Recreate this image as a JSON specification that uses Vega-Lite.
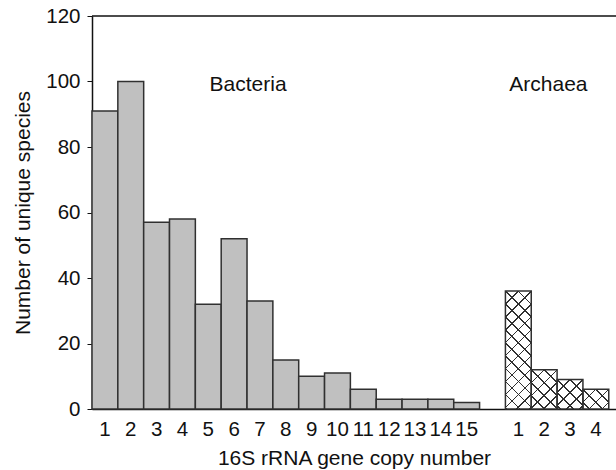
{
  "$schema": "https://vega.github.io/schema/vega-lite/v6.json",
  "width": 524,
  "height": 393,
  "autosize": {"type": "none"},
  "padding": {"left": 92, "top": 16, "right": 0, "bottom": 61},
  "background": "white",
  "config": {
    "font": "Liberation Sans",
    "view": {"stroke": null},
    "axis": {"grid": false, "domainColor": "#111", "domainWidth": 1.5, "tickColor": "#111", "labelColor": "#111", "titleColor": "#111", "labelFontSize": 20.5, "titleFontSize": 21, "titleFontWeight": "normal"}
  },
  "data": {
    "values": [
      {"cat": "B1", "group": "Bacteria", "count": 91},
      {"cat": "B2", "group": "Bacteria", "count": 100},
      {"cat": "B3", "group": "Bacteria", "count": 57},
      {"cat": "B4", "group": "Bacteria", "count": 58},
      {"cat": "B5", "group": "Bacteria", "count": 32},
      {"cat": "B6", "group": "Bacteria", "count": 52},
      {"cat": "B7", "group": "Bacteria", "count": 33},
      {"cat": "B8", "group": "Bacteria", "count": 15},
      {"cat": "B9", "group": "Bacteria", "count": 10},
      {"cat": "B10", "group": "Bacteria", "count": 11},
      {"cat": "B11", "group": "Bacteria", "count": 6},
      {"cat": "B12", "group": "Bacteria", "count": 3},
      {"cat": "B13", "group": "Bacteria", "count": 3},
      {"cat": "B14", "group": "Bacteria", "count": 3},
      {"cat": "B15", "group": "Bacteria", "count": 2},
      {"cat": "A1", "group": "Archaea", "count": 36},
      {"cat": "A2", "group": "Archaea", "count": 12},
      {"cat": "A3", "group": "Archaea", "count": 9},
      {"cat": "A4", "group": "Archaea", "count": 6}
    ]
  },
  "layer": [
    {
      "encoding": {
        "x": {
          "field": "cat", "type": "nominal", "sort": null,
          "scale": {"domain": ["B1","B2","B3","B4","B5","B6","B7","B8","B9","B10","B11","B12","B13","B14","B15","_","A1","A2","A3","A4"], "paddingInner": 0, "paddingOuter": 0.14, "align": 0},
          "axis": {"title": "16S rRNA gene copy number", "labelAngle": 0, "ticks": false, "labelPadding": 10, "titlePadding": 8, "labelExpr": "slice(datum.value, 1)"}
        },
        "y": {
          "field": "count", "type": "quantitative",
          "scale": {"domain": [0, 120], "nice": false},
          "axis": {"title": "Number of unique species", "values": [0,20,40,60,80,100,120], "tickSize": 5, "labelPadding": 7, "titlePadding": 12}
        }
      },
      "layer": [
        {"transform": [{"filter": "datum.group === 'Bacteria'"}], "mark": {"type": "bar", "fill": "#c0c0c0", "stroke": "#303030", "strokeWidth": 1.5}},
        {"transform": [{"filter": "datum.group === 'Archaea'"}], "mark": {"type": "bar", "fill": "white"}},
        {"transform": [{"filter": "datum.cat === 'A1'"}], "mark": {"type": "bar", "fill": {"gradient": "linear", "x1": 0, "y1": 0, "x2": 0.25494, "y2": 1.16328, "stops": [
          {"offset": 0, "color": "#303030"}, {"offset": 0.0052, "color": "#303030"}, {"offset": 0.0052, "color": "rgba(255,255,255,0)"},
          {"offset": 0.0847, "color": "rgba(255,255,255,0)"}, {"offset": 0.0847, "color": "#303030"}, {"offset": 0.0951, "color": "#303030"}, {"offset": 0.0951, "color": "rgba(255,255,255,0)"},
          {"offset": 0.1746, "color": "rgba(255,255,255,0)"}, {"offset": 0.1746, "color": "#303030"}, {"offset": 0.1850, "color": "#303030"}, {"offset": 0.1850, "color": "rgba(255,255,255,0)"},
          {"offset": 0.2644, "color": "rgba(255,255,255,0)"}, {"offset": 0.2644, "color": "#303030"}, {"offset": 0.2748, "color": "#303030"}, {"offset": 0.2748, "color": "rgba(255,255,255,0)"},
          {"offset": 0.3543, "color": "rgba(255,255,255,0)"}, {"offset": 0.3543, "color": "#303030"}, {"offset": 0.3647, "color": "#303030"}, {"offset": 0.3647, "color": "rgba(255,255,255,0)"},
          {"offset": 0.4442, "color": "rgba(255,255,255,0)"}, {"offset": 0.4442, "color": "#303030"}, {"offset": 0.4546, "color": "#303030"}, {"offset": 0.4546, "color": "rgba(255,255,255,0)"},
          {"offset": 0.5341, "color": "rgba(255,255,255,0)"}, {"offset": 0.5341, "color": "#303030"}, {"offset": 0.5445, "color": "#303030"}, {"offset": 0.5445, "color": "rgba(255,255,255,0)"},
          {"offset": 0.6240, "color": "rgba(255,255,255,0)"}, {"offset": 0.6240, "color": "#303030"}, {"offset": 0.6344, "color": "#303030"}, {"offset": 0.6344, "color": "rgba(255,255,255,0)"},
          {"offset": 0.7138, "color": "rgba(255,255,255,0)"}, {"offset": 0.7138, "color": "#303030"}, {"offset": 0.7242, "color": "#303030"}, {"offset": 0.7242, "color": "rgba(255,255,255,0)"},
          {"offset": 0.8037, "color": "rgba(255,255,255,0)"}, {"offset": 0.8037, "color": "#303030"}, {"offset": 0.8141, "color": "#303030"}, {"offset": 0.8141, "color": "rgba(255,255,255,0)"},
          {"offset": 0.8936, "color": "rgba(255,255,255,0)"}, {"offset": 0.8936, "color": "#303030"}, {"offset": 0.9040, "color": "#303030"}, {"offset": 0.9040, "color": "rgba(255,255,255,0)"},
          {"offset": 0.9835, "color": "rgba(255,255,255,0)"}, {"offset": 0.9835, "color": "#303030"}, {"offset": 0.9939, "color": "#303030"}, {"offset": 0.9939, "color": "rgba(255,255,255,0)"},
          {"offset": 1, "color": "rgba(255,255,255,0)"}]}}},
        {"transform": [{"filter": "datum.cat === 'A1'"}], "mark": {"type": "bar", "fill": {"gradient": "linear", "x1": 1, "y1": 0, "x2": 0.74506, "y2": 1.16328, "stops": [
          {"offset": 0, "color": "#303030"}, {"offset": 0.0052, "color": "#303030"}, {"offset": 0.0052, "color": "rgba(255,255,255,0)"},
          {"offset": 0.0847, "color": "rgba(255,255,255,0)"}, {"offset": 0.0847, "color": "#303030"}, {"offset": 0.0951, "color": "#303030"}, {"offset": 0.0951, "color": "rgba(255,255,255,0)"},
          {"offset": 0.1746, "color": "rgba(255,255,255,0)"}, {"offset": 0.1746, "color": "#303030"}, {"offset": 0.1850, "color": "#303030"}, {"offset": 0.1850, "color": "rgba(255,255,255,0)"},
          {"offset": 0.2644, "color": "rgba(255,255,255,0)"}, {"offset": 0.2644, "color": "#303030"}, {"offset": 0.2748, "color": "#303030"}, {"offset": 0.2748, "color": "rgba(255,255,255,0)"},
          {"offset": 0.3543, "color": "rgba(255,255,255,0)"}, {"offset": 0.3543, "color": "#303030"}, {"offset": 0.3647, "color": "#303030"}, {"offset": 0.3647, "color": "rgba(255,255,255,0)"},
          {"offset": 0.4442, "color": "rgba(255,255,255,0)"}, {"offset": 0.4442, "color": "#303030"}, {"offset": 0.4546, "color": "#303030"}, {"offset": 0.4546, "color": "rgba(255,255,255,0)"},
          {"offset": 0.5341, "color": "rgba(255,255,255,0)"}, {"offset": 0.5341, "color": "#303030"}, {"offset": 0.5445, "color": "#303030"}, {"offset": 0.5445, "color": "rgba(255,255,255,0)"},
          {"offset": 0.6240, "color": "rgba(255,255,255,0)"}, {"offset": 0.6240, "color": "#303030"}, {"offset": 0.6344, "color": "#303030"}, {"offset": 0.6344, "color": "rgba(255,255,255,0)"},
          {"offset": 0.7138, "color": "rgba(255,255,255,0)"}, {"offset": 0.7138, "color": "#303030"}, {"offset": 0.7242, "color": "#303030"}, {"offset": 0.7242, "color": "rgba(255,255,255,0)"},
          {"offset": 0.8037, "color": "rgba(255,255,255,0)"}, {"offset": 0.8037, "color": "#303030"}, {"offset": 0.8141, "color": "#303030"}, {"offset": 0.8141, "color": "rgba(255,255,255,0)"},
          {"offset": 0.8936, "color": "rgba(255,255,255,0)"}, {"offset": 0.8936, "color": "#303030"}, {"offset": 0.9040, "color": "#303030"}, {"offset": 0.9040, "color": "rgba(255,255,255,0)"},
          {"offset": 0.9835, "color": "rgba(255,255,255,0)"}, {"offset": 0.9835, "color": "#303030"}, {"offset": 0.9939, "color": "#303030"}, {"offset": 0.9939, "color": "rgba(255,255,255,0)"},
          {"offset": 1, "color": "rgba(255,255,255,0)"}]}}},
        {"transform": [{"filter": "datum.cat === 'A2'"}], "mark": {"type": "bar", "fill": {"gradient": "linear", "x1": 0, "y1": 0, "x2": 0.76083, "y2": 1.15723, "stops": [
          {"offset": 0, "color": "#303030"}, {"offset": 0.0115, "color": "#303030"}, {"offset": 0.0115, "color": "rgba(255,255,255,0)"},
          {"offset": 0.1868, "color": "rgba(255,255,255,0)"}, {"offset": 0.1868, "color": "#303030"}, {"offset": 0.2098, "color": "#303030"}, {"offset": 0.2098, "color": "rgba(255,255,255,0)"},
          {"offset": 0.3852, "color": "rgba(255,255,255,0)"}, {"offset": 0.3852, "color": "#303030"}, {"offset": 0.4082, "color": "#303030"}, {"offset": 0.4082, "color": "rgba(255,255,255,0)"},
          {"offset": 0.5835, "color": "rgba(255,255,255,0)"}, {"offset": 0.5835, "color": "#303030"}, {"offset": 0.6065, "color": "#303030"}, {"offset": 0.6065, "color": "rgba(255,255,255,0)"},
          {"offset": 0.7818, "color": "rgba(255,255,255,0)"}, {"offset": 0.7818, "color": "#303030"}, {"offset": 0.8048, "color": "#303030"}, {"offset": 0.8048, "color": "rgba(255,255,255,0)"},
          {"offset": 0.9802, "color": "rgba(255,255,255,0)"}, {"offset": 0.9802, "color": "#303030"}, {"offset": 1, "color": "#303030"}]}}},
        {"transform": [{"filter": "datum.cat === 'A2'"}], "mark": {"type": "bar", "fill": {"gradient": "linear", "x1": 1, "y1": 0, "x2": 0.23917, "y2": 1.15723, "stops": [
          {"offset": 0, "color": "#303030"}, {"offset": 0.0115, "color": "#303030"}, {"offset": 0.0115, "color": "rgba(255,255,255,0)"},
          {"offset": 0.1868, "color": "rgba(255,255,255,0)"}, {"offset": 0.1868, "color": "#303030"}, {"offset": 0.2098, "color": "#303030"}, {"offset": 0.2098, "color": "rgba(255,255,255,0)"},
          {"offset": 0.3852, "color": "rgba(255,255,255,0)"}, {"offset": 0.3852, "color": "#303030"}, {"offset": 0.4082, "color": "#303030"}, {"offset": 0.4082, "color": "rgba(255,255,255,0)"},
          {"offset": 0.5835, "color": "rgba(255,255,255,0)"}, {"offset": 0.5835, "color": "#303030"}, {"offset": 0.6065, "color": "#303030"}, {"offset": 0.6065, "color": "rgba(255,255,255,0)"},
          {"offset": 0.7818, "color": "rgba(255,255,255,0)"}, {"offset": 0.7818, "color": "#303030"}, {"offset": 0.8048, "color": "#303030"}, {"offset": 0.8048, "color": "rgba(255,255,255,0)"},
          {"offset": 0.9802, "color": "rgba(255,255,255,0)"}, {"offset": 0.9802, "color": "#303030"}, {"offset": 1, "color": "#303030"}]}}},
        {"transform": [{"filter": "datum.cat === 'A3'"}], "mark": {"type": "bar", "fill": {"gradient": "linear", "x1": 0, "y1": 0, "x2": 0.93022, "y2": 1.06116, "stops": [
          {"offset": 0, "color": "#303030"}, {"offset": 0.0136, "color": "#303030"}, {"offset": 0.0136, "color": "rgba(255,255,255,0)"},
          {"offset": 0.2200, "color": "rgba(255,255,255,0)"}, {"offset": 0.2200, "color": "#303030"}, {"offset": 0.2472, "color": "#303030"}, {"offset": 0.2472, "color": "rgba(255,255,255,0)"},
          {"offset": 0.4535, "color": "rgba(255,255,255,0)"}, {"offset": 0.4535, "color": "#303030"}, {"offset": 0.4807, "color": "#303030"}, {"offset": 0.4807, "color": "rgba(255,255,255,0)"},
          {"offset": 0.6871, "color": "rgba(255,255,255,0)"}, {"offset": 0.6871, "color": "#303030"}, {"offset": 0.7143, "color": "#303030"}, {"offset": 0.7143, "color": "rgba(255,255,255,0)"},
          {"offset": 0.9206, "color": "rgba(255,255,255,0)"}, {"offset": 0.9206, "color": "#303030"}, {"offset": 0.9478, "color": "#303030"}, {"offset": 0.9478, "color": "rgba(255,255,255,0)"},
          {"offset": 1, "color": "rgba(255,255,255,0)"}]}}},
        {"transform": [{"filter": "datum.cat === 'A3'"}], "mark": {"type": "bar", "fill": {"gradient": "linear", "x1": 1, "y1": 0, "x2": 0.06978, "y2": 1.06116, "stops": [
          {"offset": 0, "color": "#303030"}, {"offset": 0.0136, "color": "#303030"}, {"offset": 0.0136, "color": "rgba(255,255,255,0)"},
          {"offset": 0.2200, "color": "rgba(255,255,255,0)"}, {"offset": 0.2200, "color": "#303030"}, {"offset": 0.2472, "color": "#303030"}, {"offset": 0.2472, "color": "rgba(255,255,255,0)"},
          {"offset": 0.4535, "color": "rgba(255,255,255,0)"}, {"offset": 0.4535, "color": "#303030"}, {"offset": 0.4807, "color": "#303030"}, {"offset": 0.4807, "color": "rgba(255,255,255,0)"},
          {"offset": 0.6871, "color": "rgba(255,255,255,0)"}, {"offset": 0.6871, "color": "#303030"}, {"offset": 0.7143, "color": "#303030"}, {"offset": 0.7143, "color": "rgba(255,255,255,0)"},
          {"offset": 0.9206, "color": "rgba(255,255,255,0)"}, {"offset": 0.9206, "color": "#303030"}, {"offset": 0.9478, "color": "#303030"}, {"offset": 0.9478, "color": "rgba(255,255,255,0)"},
          {"offset": 1, "color": "rgba(255,255,255,0)"}]}}},
        {"transform": [{"filter": "datum.cat === 'A4'"}], "mark": {"type": "bar", "fill": {"gradient": "linear", "x1": 0, "y1": 0, "x2": 1.1154, "y2": 0.84827, "stops": [
          {"offset": 0, "color": "#303030"}, {"offset": 0.0165, "color": "#303030"}, {"offset": 0.0165, "color": "rgba(255,255,255,0)"},
          {"offset": 0.2675, "color": "rgba(255,255,255,0)"}, {"offset": 0.2675, "color": "#303030"}, {"offset": 0.3005, "color": "#303030"}, {"offset": 0.3005, "color": "rgba(255,255,255,0)"},
          {"offset": 0.5515, "color": "rgba(255,255,255,0)"}, {"offset": 0.5515, "color": "#303030"}, {"offset": 0.5845, "color": "#303030"}, {"offset": 0.5845, "color": "rgba(255,255,255,0)"},
          {"offset": 0.8355, "color": "rgba(255,255,255,0)"}, {"offset": 0.8355, "color": "#303030"}, {"offset": 0.8685, "color": "#303030"}, {"offset": 0.8685, "color": "rgba(255,255,255,0)"},
          {"offset": 1, "color": "rgba(255,255,255,0)"}]}}},
        {"transform": [{"filter": "datum.cat === 'A4'"}], "mark": {"type": "bar", "fill": {"gradient": "linear", "x1": 1, "y1": 0, "x2": -0.1154, "y2": 0.84827, "stops": [
          {"offset": 0, "color": "#303030"}, {"offset": 0.0165, "color": "#303030"}, {"offset": 0.0165, "color": "rgba(255,255,255,0)"},
          {"offset": 0.2675, "color": "rgba(255,255,255,0)"}, {"offset": 0.2675, "color": "#303030"}, {"offset": 0.3005, "color": "#303030"}, {"offset": 0.3005, "color": "rgba(255,255,255,0)"},
          {"offset": 0.5515, "color": "rgba(255,255,255,0)"}, {"offset": 0.5515, "color": "#303030"}, {"offset": 0.5845, "color": "#303030"}, {"offset": 0.5845, "color": "rgba(255,255,255,0)"},
          {"offset": 0.8355, "color": "rgba(255,255,255,0)"}, {"offset": 0.8355, "color": "#303030"}, {"offset": 0.8685, "color": "#303030"}, {"offset": 0.8685, "color": "rgba(255,255,255,0)"},
          {"offset": 1, "color": "rgba(255,255,255,0)"}]}}},
        {"transform": [{"filter": "datum.group === 'Archaea'"}], "mark": {"type": "bar", "fill": "transparent", "stroke": "#303030", "strokeWidth": 1.5}}
      ]
    },
    {
      "data": {"values": [{"label": "Bacteria", "cat": "B5"}]},
      "mark": {"type": "text", "align": "left", "baseline": "alphabetic", "fontSize": 21, "fill": "#111"},
      "encoding": {"x": {"field": "cat", "type": "nominal", "bandPosition": 0.55}, "y": {"datum": 97, "type": "quantitative"}, "text": {"field": "label"}}
    },
    {
      "data": {"values": [{"label": "Archaea", "cat": "A1"}]},
      "mark": {"type": "text", "align": "left", "baseline": "alphabetic", "fontSize": 21, "fill": "#111"},
      "encoding": {"x": {"field": "cat", "type": "nominal", "bandPosition": 0.15}, "y": {"datum": 97, "type": "quantitative"}, "text": {"field": "label"}}
    },
    {
      "data": {"values": [{}]},
      "mark": {"type": "rule", "color": "#111", "strokeWidth": 1.5},
      "encoding": {"y": {"datum": 120, "type": "quantitative"}}
    }
  ]
}
